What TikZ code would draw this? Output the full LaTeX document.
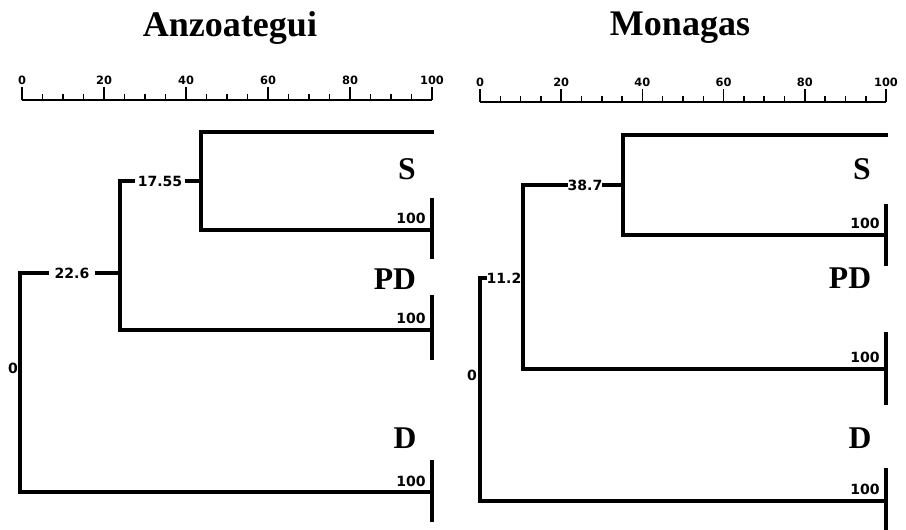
\documentclass[tikz,border=0pt]{standalone}
\usepackage{fontspec}
\usepackage{tkz-euclide}
\setmainfont{Liberation Serif}
\newfontfamily\numfont{DejaVu Sans}
\tikzset{>=stealth}
\tikzset{limb/.style={line width=2.1pt, line cap=rect},
  axis/.style={line width=1.3pt},
  tick/.style={line width=0.9pt},
  cut/.style={font=\numfont\bfseries\fontsize{8}{9}\selectfont, inner sep=2.5pt},
  leafnum/.style={font=\numfont\bfseries\fontsize{8}{9}\selectfont, inner sep=0pt},
  axnum/.style={font=\numfont\bfseries\fontsize{6.5}{7}\selectfont, inner sep=1pt},
  group/.style={font=\bfseries\fontsize{18}{20}\selectfont, inner sep=0pt},
  title/.style={font=\bfseries\fontsize{20.5}{24}\selectfont, inner sep=0pt}}

\begin{document}
\begin{tikzpicture}[x=0.02cm, y=0.02cm]
\useasboundingbox (0,0) rectangle (906,529);
% Anzoategui
\node[title] (tA) at (230,501) {Anzoategui};
\tkzDefPoints{22/429/P0, 432/429/P1}
\draw[axis] (P0) -- (P1);
\foreach \i in {5,10,...,95} \draw[tick] ({22+4.1*\i},429) -- ++(0,6);
\foreach \i in {0,20,...,100} \draw[tick] ({22+4.1*\i},429) -- ++(0,13) node[above, axnum] {\i};
\tkzDefPoints{201/397/Sa, 432/397/Sb, 201/299/Sc, 432/299/Sd, 432/329/Se, 432/272/Sf}
\tkzDefPoints{120/348/Ta, 201/348/Tb, 120/199/Tc, 432/199/Td, 432/232/Te, 432/171/Tf}
\tkzDefPoints{20/256/Ua, 120/256/Ub, 20/37/Uc, 432/37/Ud, 432/67/Ue, 432/9/Uf}
\draw[limb] (Sb) -- (Sa) -- (Sc) -- (Sd);
\tkzDrawSegments[limb](Se,Sf Te,Tf Ue,Uf)
\node[cut] (a1755) at (160,348) {17.55};
\draw[limb] (Td) -- (Tc) -- (Ta) -- (a1755);
\draw[limb] (a1755) -- (Tb);
\node[cut, inner sep=4pt] (a226) at (72,256) {22.6};
\draw[limb] (Ud) -- (Uc) -- (Ua) -- (a226);
\draw[limb] (a226) -- (Ub);
\node[leafnum] (a0) at (13,161) {0};
\node[leafnum] (aS100) at (411,311) {100};
\node[leafnum] (aP100) at (411,211) {100};
\node[leafnum] (aD100) at (411,48) {100};
\node[group] (aS) at (407,360) {S};
\node[group] (aPD) at (395,250) {PD};
\node[group] (aD) at (405,91) {D};
% Monagas
\node[title] (tM) at (680,501) {Monagas};
\tkzDefPoints{480/427/Q0, 886/427/Q1}
\draw[axis] (Q0) -- (Q1);
\foreach \i in {5,10,...,95} \draw[tick] ({480+4.06*\i},427) -- ++(0,6);
\foreach \i in {0,20,...,100} \draw[tick] ({480+4.06*\i},427) -- ++(0,13) node[above, axnum] {\i};
\tkzDefPoints{623/394/Va, 886/394/Vb, 623/294/Vc, 886/294/Vd, 886/323/Ve, 886/265/Vf}
\tkzDefPoints{523/344/Wa, 623/344/Wb, 523/160/Wc, 886/160/Wd, 886/195/We, 886/126/Wf}
\tkzDefPoints{480/251/Xa, 523/251/Xb, 480/28/Xc, 886/28/Xd, 886/59/Xe, 886/0/Xf}
\draw[limb] (Vb) -- (Va) -- (Vc) -- (Vd);
\tkzDrawSegments[limb](Ve,Vf We,Wf Xe,Xf)
\node[cut, inner sep=0.5pt] (m387) at (585,344) {38.7};
\draw[limb] (Wd) -- (Wc) -- (Wa) -- (m387);
\draw[limb] (m387) -- (Wb);
\node[cut, inner sep=0.5pt] (m112) at (504,251) {11.2};
\draw[limb] (Xd) -- (Xc) -- (Xa) -- (m112);
\node[leafnum] (m0) at (472,154) {0};
\node[leafnum] (mS100) at (865,306) {100};
\node[leafnum] (mP100) at (865,172) {100};
\node[leafnum] (mD100) at (865,40) {100};
\node[group] (mS) at (862,360) {S};
\node[group] (mPD) at (850,251) {PD};
\node[group] (mD) at (860,91) {D};
\end{tikzpicture}
\end{document}
